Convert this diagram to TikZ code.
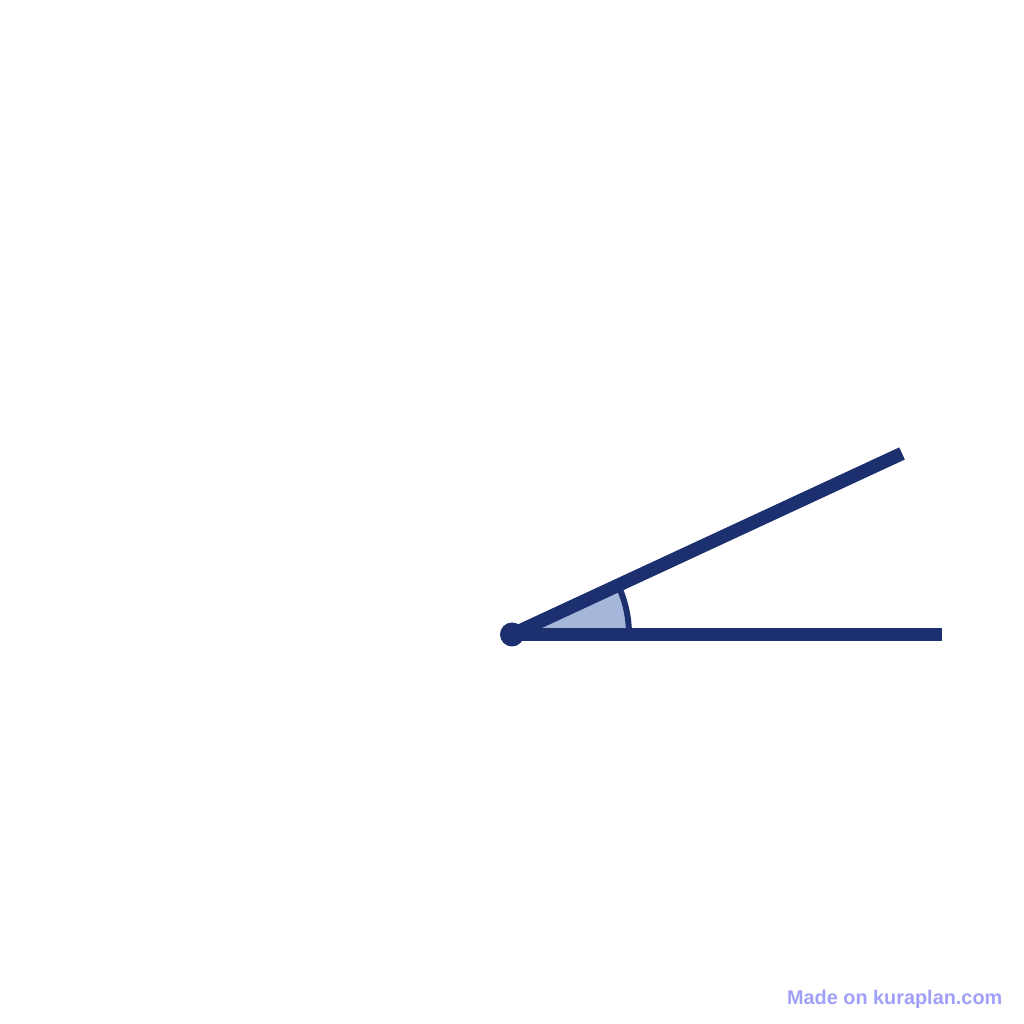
\documentclass[tikz,border=0pt]{standalone}
\usepackage{fontspec}
\setmainfont{Liberation Sans}
\usetikzlibrary{calc}
\definecolor{navy}{HTML}{1C2F6E}
\definecolor{wedge}{HTML}{A4B6DA}
\definecolor{mark}{HTML}{A0A0F8}
\begin{document}
\begin{tikzpicture}
        \useasboundingbox (0, 0) rectangle (10.24, 10.24);
        \coordinate (O) at (5.12, 3.895);
        \coordinate (A) at (9.42, 3.895);
        \coordinate (B) at ($(O) + (24.9:4.30)$);
        \fill [wedge] (O) -- ++(0:1.17) arc [start angle = 0, end angle = 24.9, radius = 1.17] -- cycle;
        \draw [navy, line width = 1.7pt] ($(O) + (0:1.17)$) arc [start angle = 0, end angle = 24.9, radius = 1.17];
        \draw [navy, line width = 3.8pt] (O) -- (A);
        \draw [navy, line width = 3.8pt] (O) -- (B);
        \fill [navy] (O) circle [radius = 0.12];
        \node [anchor = base east, inner sep = 0, text = mark, font = \fontsize{5.65pt}{6pt}\selectfont\bfseries] (credit) at (10.03, 0.19) {Made on kuraplan.com};
      \end{tikzpicture}
\end{document}
